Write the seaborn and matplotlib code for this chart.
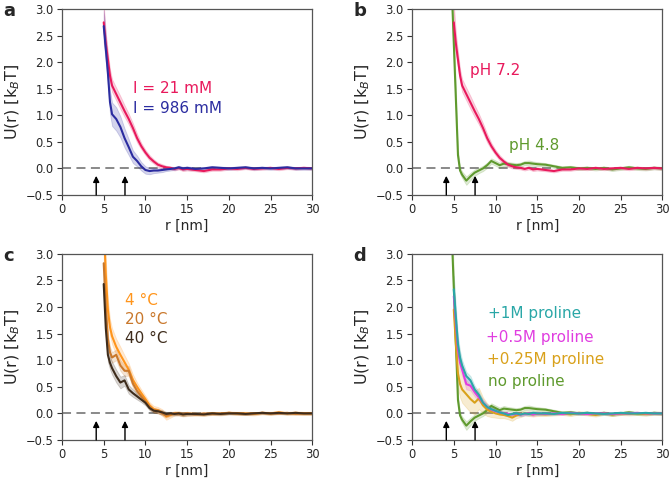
import numpy as np
import pandas as pd
import matplotlib
matplotlib.use("Agg")
import matplotlib.pyplot as plt
import seaborn as sns

# ---------------- data ----------------
r_nm = [5.0, 5.25, 5.5, 5.75, 6.0, 6.5, 7.0, 7.5, 8.0, 8.5, 9.0, 9.5, 10.0, 10.5,
        11.0, 11.5, 12.0, 12.5, 13.0, 13.5, 14.0, 14.5, 15.0, 16, 17, 18, 19, 20,
        21, 22, 23, 24, 25, 26, 27, 28, 29, 30]
r_nm_green = [4.75] + r_nm

u_21mM = [2.75, 2.35, 2.05, 1.75, 1.56, 1.4, 1.24, 1.08, 0.93, 0.76, 0.57, 0.42, 0.3, 0.2,
          0.13, 0.07, 0.04, 0.02, 0.01, -0.01, 0.01, -0.02, -0.01,
          -0.03, -0.05, -0.02, -0.02, 0.0, -0.01, 0.01, -0.01, 0.0, 0.01, -0.01, 0.01, 0.0, 0.01, 0.0]
e_21mM = [0.35, 0.2, 0.15, 0.12, 0.12, 0.12, 0.12, 0.11, 0.1, 0.09, 0.08, 0.06, 0.05, 0.05,
          0.04, 0.04, 0.04, 0.03, 0.03, 0.03, 0.03, 0.03, 0.03,
          0.025, 0.025, 0.025, 0.025, 0.025, 0.025, 0.025, 0.025, 0.025, 0.025, 0.025, 0.025, 0.025, 0.025, 0.025]

u_986mM = [2.68, 2.25, 1.8, 1.25, 1.02, 0.93, 0.78, 0.57, 0.4, 0.22, 0.14, 0.04, -0.03, -0.05,
           -0.04, -0.04, -0.03, -0.02, -0.01, 0.0, 0.02, 0.0, 0.01,
           -0.01, 0.0, 0.02, 0.01, 0.0, 0.01, 0.02, 0.0, 0.01, 0.0, 0.01, 0.02, 0.0, 0.0, 0.0]
e_986mM = [0.3, 0.25, 0.22, 0.22, 0.22, 0.22, 0.2, 0.18, 0.15, 0.12, 0.1, 0.08, 0.07, 0.06,
           0.05, 0.04, 0.04, 0.03, 0.03, 0.03, 0.03, 0.03, 0.03,
           0.025, 0.025, 0.025, 0.025, 0.025, 0.025, 0.025, 0.025, 0.025, 0.025, 0.025, 0.025, 0.025, 0.025, 0.025]

u_pH48 = [3.4, 2.35, 1.3, 0.25, -0.04, -0.12, -0.23, -0.15, -0.08, -0.04, 0.0, 0.06, 0.14, 0.1,
          0.06, 0.09, 0.08, 0.07, 0.06, 0.07, 0.1, 0.1, 0.09, 0.08,
          0.07, 0.04, 0.01, 0.02, 0.0, 0.01, -0.01, 0.01, -0.02, 0.0, 0.02, 0.0, -0.01, 0.01, 0.0]
e_pH48 = [0.4, 0.3, 0.2, 0.1, 0.06, 0.06, 0.08, 0.07, 0.06, 0.05, 0.05, 0.05, 0.05, 0.05,
          0.05, 0.05, 0.04, 0.04, 0.04, 0.04, 0.04, 0.05, 0.04, 0.04,
          0.03, 0.03, 0.03, 0.03, 0.03, 0.03, 0.03, 0.03, 0.03, 0.03, 0.03, 0.03, 0.03, 0.03, 0.03]

u_4C = [3.6, 2.6, 1.95, 1.62, 1.45, 1.25, 1.1, 0.96, 0.82, 0.63, 0.5, 0.38, 0.27, 0.15,
        0.08, 0.06, 0.02, -0.06, -0.03, 0.0, 0.0, -0.02, -0.01,
        -0.01, -0.02, 0.0, -0.01, 0.01, 0.0, 0.0, -0.01, 0.01, 0.0, 0.02, 0.0, 0.01, 0.0, 0.0]
e_4C = [0.4, 0.3, 0.2, 0.15, 0.15, 0.15, 0.15, 0.13, 0.12, 0.1, 0.08, 0.07, 0.06, 0.06,
        0.06, 0.06, 0.06, 0.06, 0.05, 0.04, 0.04, 0.04, 0.04,
        0.03, 0.03, 0.03, 0.03, 0.03, 0.03, 0.03, 0.03, 0.03, 0.03, 0.03, 0.03, 0.03, 0.03, 0.03]

u_20C = [2.82, 2.0, 1.4, 1.15, 1.05, 1.1, 0.9, 0.8, 0.8, 0.56, 0.42, 0.32, 0.22, 0.12,
         0.06, 0.05, 0.0, -0.04, -0.02, 0.0, -0.01, -0.01, 0.0,
         -0.02, 0.0, -0.01, 0.0, 0.01, 0.0, -0.01, 0.0, 0.01, 0.0, 0.0, 0.01, -0.01, 0.0, 0.0]
e_20C = [0.2, 0.15, 0.12, 0.1, 0.1, 0.1, 0.1, 0.1, 0.09, 0.08, 0.07, 0.06, 0.05, 0.05,
         0.04, 0.04, 0.04, 0.04, 0.03, 0.03, 0.03, 0.03, 0.03,
         0.02, 0.02, 0.02, 0.02, 0.02, 0.02, 0.02, 0.02, 0.02, 0.02, 0.02, 0.02, 0.02, 0.02, 0.02]

u_40C = [2.43, 1.6, 1.1, 0.95, 0.85, 0.7, 0.58, 0.62, 0.45, 0.38, 0.32, 0.26, 0.2, 0.1,
         0.05, 0.04, 0.02, -0.01, 0.0, -0.01, 0.0, -0.02, -0.01,
         -0.01, -0.02, 0.0, -0.01, 0.0, 0.0, -0.01, 0.0, 0.01, 0.0, 0.01, 0.0, 0.01, 0.0, 0.0]
e_40C = [0.2, 0.15, 0.13, 0.12, 0.12, 0.12, 0.11, 0.1, 0.08, 0.07, 0.06, 0.05, 0.05, 0.04,
         0.04, 0.04, 0.04, 0.04, 0.03, 0.03, 0.03, 0.03, 0.03,
         0.02, 0.02, 0.02, 0.02, 0.02, 0.02, 0.02, 0.02, 0.02, 0.02, 0.02, 0.02, 0.02, 0.02, 0.02]

u_1M = [2.33, 1.8, 1.3, 1.05, 0.9, 0.7, 0.62, 0.45, 0.35, 0.2, 0.12, 0.08, 0.05, 0.02,
        0.0, -0.03, -0.01, 0.0, -0.02, 0.0, -0.01, 0.01, 0.0,
        0.0, -0.01, 0.01, 0.0, 0.0, 0.01, 0.0, -0.01, 0.0, 0.01, 0.0, 0.0, 0.01, 0.0, 0.0]
e_1M = [0.25, 0.2, 0.15, 0.12, 0.1, 0.08, 0.08, 0.07, 0.06, 0.05, 0.05, 0.04, 0.04, 0.03,
        0.03, 0.03, 0.03, 0.03, 0.03, 0.03, 0.03, 0.03, 0.03,
        0.02, 0.02, 0.02, 0.02, 0.02, 0.02, 0.02, 0.02, 0.02, 0.02, 0.02, 0.02, 0.02, 0.02, 0.02]

u_05M = [2.2, 1.7, 1.2, 0.95, 0.82, 0.55, 0.52, 0.4, 0.3, 0.2, 0.12, 0.07, 0.04, 0.02,
         0.0, -0.01, -0.02, -0.01, -0.02, -0.01, 0.0, -0.02, 0.0,
         -0.01, 0.0, -0.01, 0.01, 0.0, -0.01, 0.0, 0.0, -0.01, 0.0, 0.0, 0.01, 0.0, 0.0, 0.0]
e_05M = [0.2, 0.15, 0.12, 0.1, 0.1, 0.1, 0.09, 0.08, 0.07, 0.06, 0.05, 0.04, 0.04, 0.03,
         0.03, 0.03, 0.03, 0.03, 0.03, 0.03, 0.03, 0.03, 0.03,
         0.02, 0.02, 0.02, 0.02, 0.02, 0.02, 0.02, 0.02, 0.02, 0.02, 0.02, 0.02, 0.02, 0.02, 0.02]

u_025M = [1.95, 1.3, 0.75, 0.55, 0.45, 0.36, 0.27, 0.2, 0.28, 0.15, 0.07, 0.03, 0.0, -0.02,
          -0.03, -0.05, -0.08, -0.04, -0.02, 0.0, -0.01, -0.02, -0.01,
          -0.02, -0.01, 0.0, -0.02, 0.01, -0.01, -0.03, 0.0, -0.02, 0.0, -0.01, 0.0, -0.01, 0.0, 0.0]
e_025M = [0.3, 0.3, 0.28, 0.25, 0.25, 0.25, 0.25, 0.22, 0.2, 0.15, 0.12, 0.1, 0.08, 0.07,
          0.06, 0.06, 0.06, 0.05, 0.05, 0.04, 0.04, 0.04, 0.04,
          0.03, 0.03, 0.03, 0.03, 0.03, 0.03, 0.03, 0.03, 0.03, 0.03, 0.03, 0.03, 0.03, 0.03, 0.03]

arrow_positions = [4.1, 7.55]

C_RED = "#e8195c"
C_BLUE = "#2b2ca0"
C_GREEN = "#5f9a2e"
C_4C = "#ff951c"
C_20C = "#c9782c"
C_40C = "#3e2c1c"
C_1M = "#2aa7a7"
C_05M = "#e03ee0"
C_025M = "#d9a11b"

# (label, r, u, err, color)
panels = {
    "a": [("I = 21 mM", r_nm, u_21mM, e_21mM, C_RED),
          ("I = 986 mM", r_nm, u_986mM, e_986mM, C_BLUE)],
    "b": [("pH 4.8", r_nm_green, u_pH48, e_pH48, C_GREEN),
          ("pH 7.2", r_nm, u_21mM, e_21mM, C_RED)],
    "c": [("4 °C", r_nm, u_4C, e_4C, C_4C),
          ("20 °C", r_nm, u_20C, e_20C, C_20C),
          ("40 °C", r_nm, u_40C, e_40C, C_40C)],
    "d": [("no proline", r_nm_green, u_pH48, e_pH48, C_GREEN),
          ("+0.25M proline", r_nm, u_025M, e_025M, C_025M),
          ("+0.5M proline", r_nm, u_05M, e_05M, C_05M),
          ("+1M proline", r_nm, u_1M, e_1M, C_1M)],
}

# text annotations: (text, x, y, color)
labels = {
    "a": [("I = 21 mM", 8.5, 1.5, C_RED), ("I = 986 mM", 8.5, 1.12, C_BLUE)],
    "b": [("pH 7.2", 6.9, 1.84, C_RED), ("pH 4.8", 11.6, 0.43, C_GREEN)],
    "c": [("4 °C", 7.6, 2.12, C_4C), ("20 °C", 7.6, 1.76, C_20C), ("40 °C", 7.6, 1.4, C_40C)],
    "d": [("+1M proline", 9.1, 1.87, C_1M), ("+0.5M proline", 8.9, 1.43, C_05M),
          ("+0.25M proline", 9.0, 1.02, C_025M), ("no proline", 9.1, 0.6, C_GREEN)],
}

# ---------------- plotting ----------------
sns.set_style("ticks")
plt.rcParams["font.family"] = ["DejaVu Sans"]

fig = plt.figure(figsize=(6.69, 4.79), dpi=100)
positions = {
    "a": [0.0927, 0.593, 0.374, 0.388],
    "b": [0.616, 0.593, 0.374, 0.388],
    "c": [0.0927, 0.0814, 0.374, 0.389],
    "d": [0.616, 0.0814, 0.374, 0.389],
}

for key, series in panels.items():
    ax = fig.add_axes(positions[key])
    frames = []
    for lab, r, u, e, col in series:
        frames.append(pd.DataFrame({"r": r, "U": u, "err": e, "series": lab}))
    df = pd.concat(frames, ignore_index=True)
    palette = {lab: col for lab, _, _, _, col in series}
    for lab, r, u, e, col in series:
        sub = df[df["series"] == lab]
        ax.fill_between(sub["r"], sub["U"] - sub["err"], sub["U"] + sub["err"],
                        color=col, alpha=0.2, linewidth=0.6)
    sns.lineplot(data=df, x="r", y="U", hue="series", palette=palette,
                 hue_order=[s[0] for s in series], estimator=None, errorbar=None,
                 legend=False, linewidth=1.5, ax=ax, sort=False)
    ax.axhline(0, color="#808080", ls=(0, (5, 3)), lw=1.3, zorder=0.5)
    for xa in arrow_positions:
        ax.annotate("", xy=(xa, -0.14), xytext=(xa, -0.5),
                    arrowprops=dict(arrowstyle="-|>", color="black", lw=1.0,
                                    mutation_scale=9, shrinkA=0, shrinkB=0))
    for t, x, y, c in labels[key]:
        ax.text(x, y, t, color=c, fontsize=11, va="center", ha="left")
    ax.set_xlim(0, 30)
    ax.set_ylim(-0.5, 3.0)
    ax.set_xticks([0, 5, 10, 15, 20, 25, 30])
    ax.set_yticks([-0.5, 0.0, 0.5, 1.0, 1.5, 2.0, 2.5, 3.0])
    ax.set_yticklabels(["\u22120.5", "0.0", "0.5", "1.0", "1.5", "2.0", "2.5", "3.0"])
    ax.tick_params(labelsize=8.3, length=3.5, width=0.8, color="#333333", pad=2.5)
    ax.set_xlabel("r [nm]", fontsize=10, labelpad=2)
    ax.set_ylabel(r"U(r) [k$_B$T]", fontsize=11.5, labelpad=3)
    for sp in ax.spines.values():
        sp.set_color("#555555")
        sp.set_linewidth(0.9)
    bb = positions[key]
    fig.text(bb[0] - 0.088, bb[1] + bb[3] - 0.005, key, fontsize=13, fontweight="bold",
             va="center", ha="left")

fig.savefig("out.png", dpi=100)
